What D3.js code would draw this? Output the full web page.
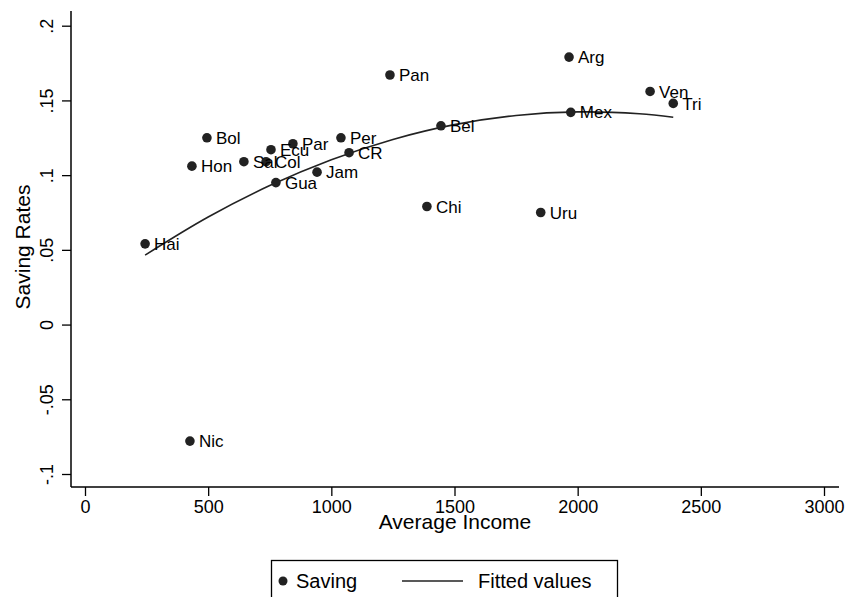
<!DOCTYPE html>
<html lang="en">
<head>
  <meta charset="utf-8">
  <script src="https://d3js.org/d3.v7.min.js"></script>
  <style>
    body { margin: 0; background: #fff; }
    text { font-family: "Liberation Sans", Arial, sans-serif; fill: #000; }
  </style>
</head>
<body>
  <div id="my_dataviz"></div>
  <script>
    // data
    const countries = ["Hai", "Nic", "Hon", "Bol", "Sal", "Col", "Ecu", "Gua", "Par", "Jam",
                       "Per", "CR", "Pan", "Chi", "Bel", "Uru", "Arg", "Mex", "Ven", "Tri"];
    const income = [244, 426, 434, 495, 645, 735, 755, 775, 844, 942,
                    1039, 1072, 1238, 1388, 1445, 1850, 1965, 1972, 2294, 2388];
    const saving = [0.054, -0.078, 0.106, 0.125, 0.109, 0.109, 0.117, 0.095, 0.121, 0.102,
                    0.125, 0.115, 0.167, 0.079, 0.133, 0.075, 0.179, 0.142, 0.156, 0.148];

    // fitted values (quadratic fit)
    const fitIncome = [244, 500, 750, 1000, 1250, 1500, 1750, 2000, 2250, 2388];
    const fitValues = [0.0465, 0.072, 0.093, 0.1103, 0.1239, 0.1338, 0.1399, 0.1423, 0.1411, 0.1387];

    const xTicks = [0, 500, 1000, 1500, 2000, 2500, 3000];
    const yTicks = [-0.1, -0.05, 0, 0.05, 0.1, 0.15, 0.2];
    const yTickLabels = ["-.1", "-.05", "0", ".05", ".1", ".15", ".2"];

    const width = 851, height = 597;

    const svg = d3.select("#my_dataviz")
      .append("svg")
        .attr("width", width)
        .attr("height", height);

    const x = d3.scaleLinear()
      .domain([0, 3000])
      .range([85, 824]);

    const y = d3.scaleLinear()
      .domain([-0.1, 0.2])
      .range([474, 25.7]);

    // X axis
    const xAxis = svg.append("g")
      .attr("transform", "translate(0,487)")
      .call(d3.axisBottom(x).tickValues(xTicks).tickSize(9).tickPadding(4).tickFormat(d3.format("d")));
    xAxis.select(".domain").attr("d", "M71,0H839").attr("stroke-width", 1.5);
    xAxis.selectAll(".tick line").attr("stroke-width", 1.3);
    xAxis.selectAll("text").style("font-size", "18px").attr("font-family", null);

    // Y axis
    const yAxis = svg.append("g")
      .attr("transform", "translate(71,0)")
      .call(d3.axisLeft(y).tickValues(yTicks).tickSize(9).tickPadding(4)
        .tickFormat((d, i) => yTickLabels[i]));
    yAxis.select(".domain").attr("d", "M0,11V487").attr("stroke-width", 1.5);
    yAxis.selectAll(".tick line").attr("stroke-width", 1.3);
    yAxis.selectAll("text")
      .style("font-size", "18px")
      .attr("font-family", null)
      .attr("text-anchor", "middle")
      .attr("x", null)
      .attr("dy", null)
      .attr("transform", "translate(-18,0) rotate(-90)");

    // axis titles
    svg.append("text")
      .attr("x", 455)
      .attr("y", 529)
      .attr("text-anchor", "middle")
      .style("font-size", "21px")
      .text("Average Income");

    svg.append("text")
      .attr("transform", "translate(30,247) rotate(-90)")
      .attr("text-anchor", "middle")
      .style("font-size", "21px")
      .text("Saving Rates");

    // fitted line
    const fitData = fitIncome.map((d, i) => [d, fitValues[i]]);
    svg.append("path")
      .datum(fitData)
      .attr("fill", "none")
      .attr("stroke", "#222")
      .attr("stroke-width", 1.6)
      .attr("d", d3.line().curve(d3.curveCatmullRom).x(d => x(d[0])).y(d => y(d[1])));

    // points
    const pts = countries.map((c, i) => ({name: c, inc: income[i], sav: saving[i]}));
    svg.selectAll("mydots")
      .data(pts)
      .join("circle")
        .attr("cx", d => x(d.inc))
        .attr("cy", d => y(d.sav))
        .attr("r", 4.8)
        .attr("fill", "#222");

    svg.selectAll("mylabels")
      .data(pts)
      .join("text")
        .attr("x", d => x(d.inc) + 9)
        .attr("y", d => y(d.sav))
        .attr("dy", "0.36em")
        .style("font-size", "17px")
        .text(d => d.name);

    // legend
    const legend = svg.append("g");
    legend.append("rect")
      .attr("x", 271.5)
      .attr("y", 560.5)
      .attr("width", 346)
      .attr("height", 50)
      .attr("fill", "none")
      .attr("stroke", "#000")
      .attr("stroke-width", 1.3);
    legend.append("circle")
      .attr("cx", 283)
      .attr("cy", 581)
      .attr("r", 4.5)
      .attr("fill", "#222");
    legend.append("text")
      .attr("x", 296)
      .attr("y", 581)
      .attr("dy", "0.36em")
      .style("font-size", "20px")
      .text("Saving");
    legend.append("line")
      .attr("x1", 402)
      .attr("x2", 463)
      .attr("y1", 581)
      .attr("y2", 581)
      .attr("stroke", "#222")
      .attr("stroke-width", 1.6);
    legend.append("text")
      .attr("x", 478)
      .attr("y", 581)
      .attr("dy", "0.36em")
      .style("font-size", "20px")
      .text("Fitted values");
  </script>
</body>
</html>
